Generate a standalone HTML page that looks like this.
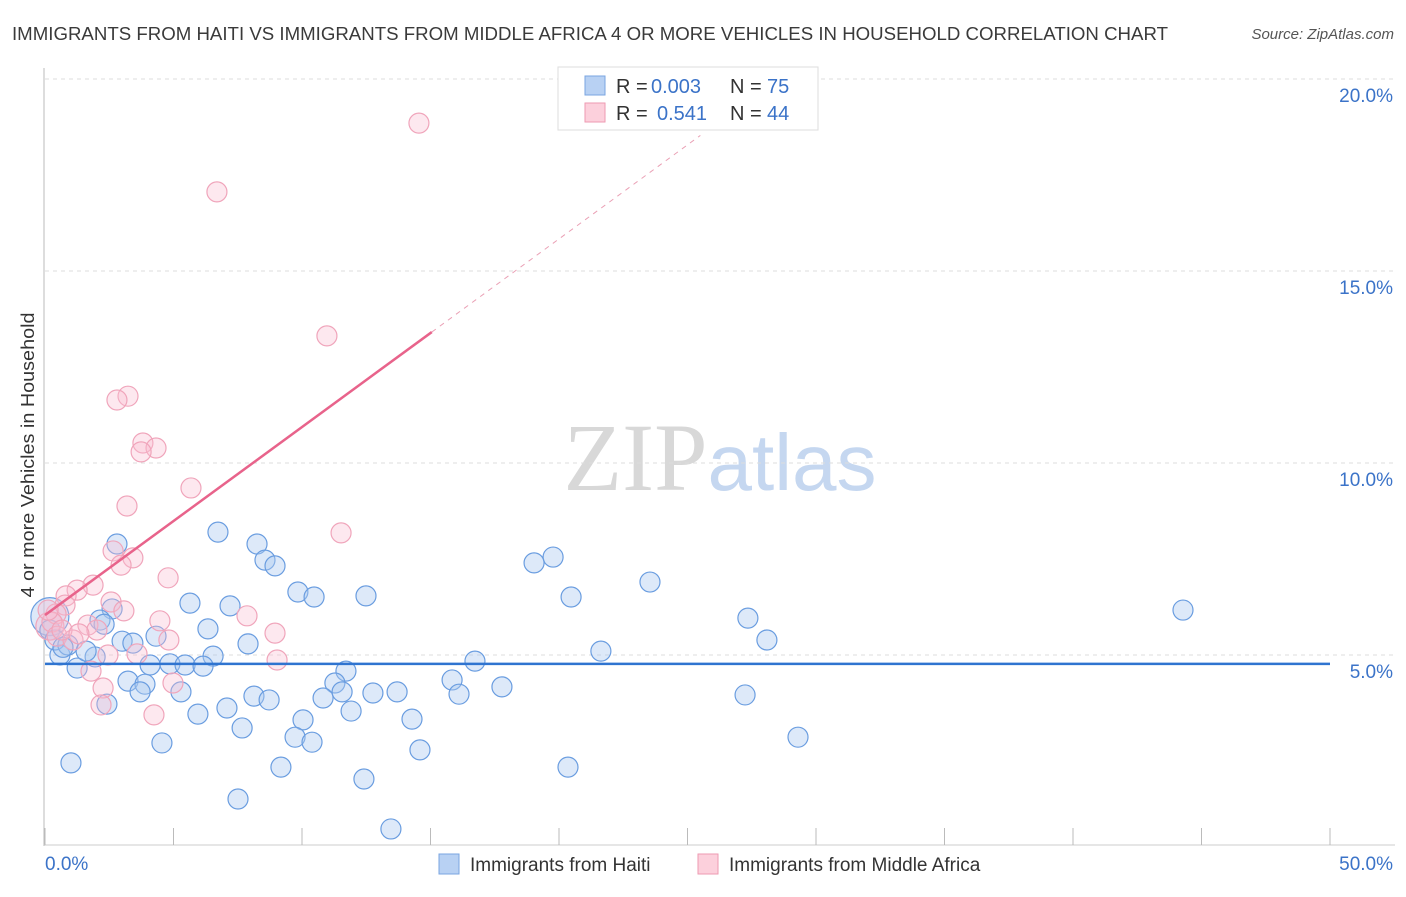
<!DOCTYPE html>
<html><head><meta charset="utf-8"><style>
body{margin:0;background:#fff;font-family:"Liberation Sans",sans-serif;}
svg text{font-family:"Liberation Sans",sans-serif;}
</style></head><body>
<svg id="chart" width="1406" height="892" xmlns="http://www.w3.org/2000/svg">
<text x="12" y="40" font-size="18" fill="#3a3a3a" textLength="1156" lengthAdjust="spacingAndGlyphs">IMMIGRANTS FROM HAITI VS IMMIGRANTS FROM MIDDLE AFRICA 4 OR MORE VEHICLES IN HOUSEHOLD CORRELATION CHART</text>
<text x="1394" y="39" font-size="15" fill="#555" text-anchor="end" font-style="italic">Source: ZipAtlas.com</text>
<text x="720" y="490" font-size="96" text-anchor="middle"><tspan fill="#d8d8d8" font-family="Liberation Serif">ZIP</tspan><tspan fill="#c5d7f0" font-size="80">atlas</tspan></text>
<text transform="translate(34,455) rotate(-90)" font-size="18" fill="#333" text-anchor="middle" textLength="285" lengthAdjust="spacingAndGlyphs">4 or more Vehicles in Household</text>
<g id="grid"></g><g id="axes"></g><g id="pts"></g><g id="lines"></g>
<g>
<rect x="558" y="67" width="260" height="63" fill="#fff" stroke="#ddd"/>
<rect x="585" y="76" width="20" height="19" fill="#b8d1f3" stroke="#7aa5e0"/>
<rect x="585" y="103" width="20" height="19" fill="#fcd0dc" stroke="#ee9ab2"/>
<text x="616" y="93" font-size="20" fill="#333">R =</text>
<text x="651" y="93" font-size="20" fill="#3b73c8">0.003</text>
<text x="730" y="93" font-size="20" fill="#333">N =</text>
<text x="767" y="93" font-size="20" fill="#3b73c8">75</text>
<text x="616" y="120" font-size="20" fill="#333">R =</text>
<text x="657" y="120" font-size="20" fill="#3b73c8">0.541</text>
<text x="730" y="120" font-size="20" fill="#333">N =</text>
<text x="767" y="120" font-size="20" fill="#3b73c8">44</text>
</g>
<g>
<rect x="439" y="854" width="20" height="20" fill="#b8d1f3" stroke="#7aa5e0"/>
<text x="470" y="871" font-size="19" fill="#333">Immigrants from Haiti</text>
<rect x="698" y="854" width="20" height="20" fill="#fcd0dc" stroke="#ee9ab2"/>
<text x="729" y="871" font-size="19" fill="#333">Immigrants from Middle Africa</text>
</g>
</svg>
<script>
const blueX=[0.19,2.80,8.25,6.73,8.56,8.95,19.77,19.03,23.54,9.84,10.47,12.49,20.47,5.64,7.20,2.61,44.28,27.35,2.14,6.34,4.32,3.00,3.42,7.90,28.09,21.63,0.58,1.95,6.54,16.73,4.09,4.86,5.45,6.15,1.25,11.71,3.23,3.89,11.28,15.84,5.29,3.70,8.13,8.72,10.82,11.56,12.76,13.70,16.11,17.78,27.24,2.41,7.08,5.95,11.91,10.04,14.28,7.67,9.73,10.39,29.30,4.55,14.59,1.01,9.18,20.35,12.41,7.51,13.46,0.19,0.39,0.89,1.60,0.70,2.30];
const blueY=[6.00,7.89,7.89,8.20,7.47,7.32,7.55,7.40,6.90,6.64,6.51,6.54,6.51,6.35,6.28,6.20,6.17,5.96,5.91,5.68,5.49,5.36,5.31,5.29,5.39,5.10,5.00,4.95,4.97,4.84,4.74,4.77,4.74,4.71,4.66,4.58,4.32,4.24,4.27,4.35,4.04,4.04,3.93,3.83,3.88,4.04,4.01,4.04,3.98,4.17,3.96,3.72,3.62,3.46,3.54,3.31,3.33,3.10,2.86,2.73,2.86,2.71,2.53,2.19,2.08,2.08,1.77,1.25,0.47,5.65,5.39,5.26,5.10,5.20,5.80];
const pinkX=[0.19,14.55,6.69,10.97,3.23,2.80,3.81,4.32,3.74,5.68,3.19,11.52,2.65,3.42,2.96,4.79,1.87,1.25,0.82,0.78,2.57,3.07,7.86,4.47,0.43,0.27,1.67,2.02,8.95,4.82,0.47,1.09,2.45,3.58,9.03,1.79,4.98,2.26,2.18,4.24,0.66,1.32,0.12];
const pinkY=[5.75,18.85,17.06,13.31,11.74,11.64,10.52,10.39,10.29,9.35,8.88,8.18,7.71,7.53,7.34,7.01,6.82,6.69,6.54,6.30,6.38,6.15,6.02,5.89,6.07,5.86,5.78,5.65,5.57,5.39,5.49,5.39,5.00,5.03,4.87,4.58,4.27,4.14,3.70,3.44,5.65,5.55,6.17];
const blueFit=[4.77,4.77]; const blueFitX=[0,50];
const pinkFitX=[0,15.05,25.5]; const pinkFitY=[6.04,13.41,18.53];
const yTicks=[5,10,15,20];
const xTicks=[0,5,10,15,20,25,30,35,40,45,50];
const NS="http://www.w3.org/2000/svg";
const sx=v=>45+v*25.7, sy=v=>847-v*38.4;
function mk(tag,at,parent){const e=document.createElementNS(NS,tag);for(const k in at)e.setAttribute(k,at[k]);document.getElementById(parent).appendChild(e);return e;}
yTicks.forEach(t=>{
 const l=mk('line',{x1:45,x2:1395,y1:sy(t),y2:sy(t),stroke:'#ddd','stroke-dasharray':'4,4'},'grid');
 
 
 const tx=mk('text',{x:1393,y:sy(t)+23,'font-size':19,fill:'#3b73c8','text-anchor':'end'},'grid');
 tx.textContent=t.toFixed(1)+'%';
 
 
});
const ax=mk('line',{x1:44,x2:44,y1:68,y2:846,stroke:'#bbb'},'axes');


const bx=mk('line',{x1:44,x2:1395,y1:845,y2:845,stroke:'#ccc'},'axes');


xTicks.forEach(t=>{
 const l=mk('line',{x1:sx(t),x2:sx(t),y1:828,y2:845,stroke:'#bbb'},'axes');
 
 
});
[[0,'start',45],[50,'end',1393]].forEach(([t,a,x])=>{
 const tx=mk('text',{x:x,y:870,'font-size':19,fill:'#3b73c8','text-anchor':a},'axes');
 tx.textContent=t.toFixed(1)+'%';
 
 
});
blueX.forEach((v,i)=>{
 const c=mk('circle',{cx:sx(v),cy:sy(blueY[i]),r:i===0?19:10,fill:'rgba(170,200,240,0.4)',stroke:'#6a9de0','stroke-width':1.2},'pts');
 
 
});
pinkX.forEach((v,i)=>{
 const c=mk('circle',{cx:sx(v),cy:sy(pinkY[i]),r:i===0?14:10,fill:'rgba(250,190,208,0.35)',stroke:'#f0a5bb','stroke-width':1.2},'pts');
 
 
});
const bl=mk('line',{x1:sx(blueFitX[0]),x2:sx(blueFitX[1]),y1:sy(blueFit[0]),y2:sy(blueFit[1]),stroke:'#2f74d0','stroke-width':2.5},'lines');


const pl=mk('line',{x1:sx(pinkFitX[0]),x2:sx(pinkFitX[1]),y1:sy(pinkFitY[0]),y2:sy(pinkFitY[1]),stroke:'#e8638b','stroke-width':2.5},'lines');


const pd=mk('line',{x1:sx(pinkFitX[1]),x2:sx(pinkFitX[2]),y1:sy(pinkFitY[1]),y2:sy(pinkFitY[2]),stroke:'#eaa0b5','stroke-width':1,'stroke-dasharray':'5,5'},'lines');


</script>
</body></html>
